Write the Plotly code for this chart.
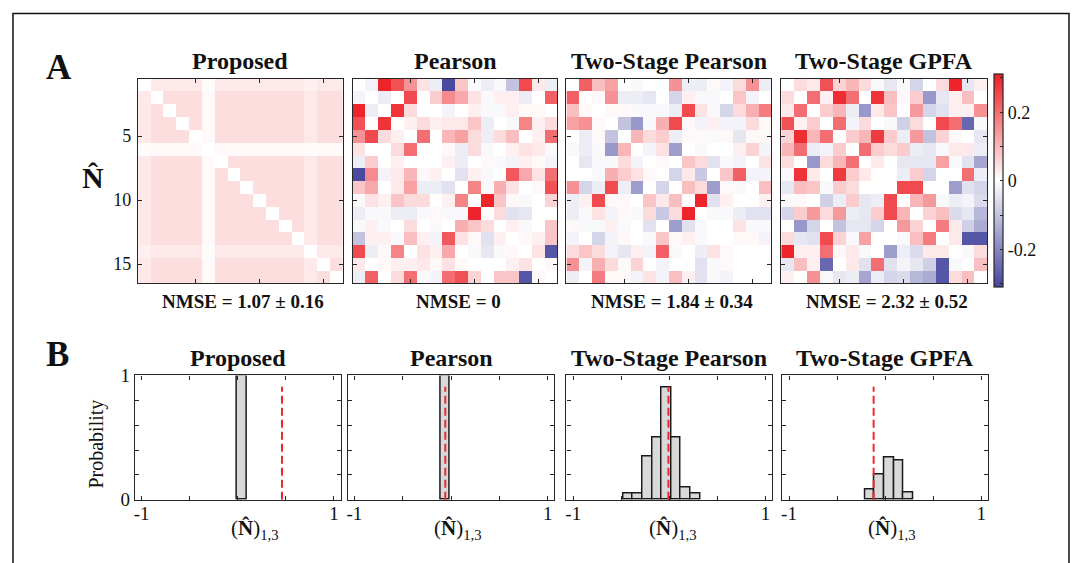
import plotly.graph_objects as go

W, H = 1081, 563
FONT = "Liberation Serif"
AXC = "#262626"

methods = ["Proposed", "Pearson", "Two-Stage Pearson", "Two-Stage GPFA"]
nmse_labels = ["NMSE = 1.07 ± 0.16", "NMSE = 0", "NMSE = 1.84 ± 0.34", "NMSE = 2.32 ± 0.52"]
neurons = list(range(1, 17))
heat_ticks = [5, 10, 15]
cbar_ticks = [-0.3, -0.2, -0.1, 0, 0.1, 0.2, 0.3]
cbar_text = ["", "-0.2", "", "0", "", "0.2", ""]
hist_xticks = [-1, -0.5, 0, 0.5, 1]
hist_xtext = ["-1", "", "", "", "1"]
hist_yticks = [0, 0.2, 0.4, 0.6, 0.8, 1]
hist_ytext = ["0", "", "", "", "", "1"]

proposed = [
    [0, .03, .03, .03, .03, .006, .03, .03, .03, .03, .03, .03, .03, .02, .03, .03],
    [.03, 0, .045, .045, .045, .008, .045, .045, .045, .045, .045, .045, .045, .03, .045, .045],
    [.03, .045, 0, .045, .045, .008, .045, .045, .045, .045, .045, .045, .045, .03, .045, .045],
    [.03, .045, .045, 0, .045, .008, .045, .045, .045, .045, .045, .045, .045, .03, .045, .045],
    [.03, .045, .045, .045, 0, .008, .045, .045, .045, .045, .045, .045, .045, .03, .045, .045],
    [.006, .008, .008, .008, .008, 0, .008, .008, .008, .008, .008, .008, .008, .006, .008, .008],
    [.03, .045, .045, .045, .045, .008, 0, .045, .045, .045, .045, .045, .045, .03, .045, .045],
    [.03, .045, .045, .045, .045, .008, .045, 0, .045, .045, .045, .045, .045, .03, .045, .045],
    [.03, .045, .045, .045, .045, .008, .045, .045, 0, .045, .045, .045, .045, .03, .045, .045],
    [.03, .045, .045, .045, .045, .008, .045, .045, .045, 0, .045, .045, .045, .03, .045, .045],
    [.03, .045, .045, .045, .045, .008, .045, .045, .045, .045, 0, .045, .045, .03, .045, .045],
    [.03, .045, .045, .045, .045, .008, .045, .045, .045, .045, .045, 0, .045, .03, .045, .045],
    [.03, .045, .045, .045, .045, .008, .045, .045, .045, .045, .045, .045, 0, .03, .045, .045],
    [.02, .03, .03, .03, .03, .006, .03, .03, .03, .03, .03, .03, .03, 0, .03, .03],
    [.03, .045, .045, .045, .045, .008, .045, .045, .045, .045, .045, .045, .045, .03, 0, .045],
    [.03, .045, .045, .045, .045, .008, .045, .045, .045, .045, .045, .045, .045, .03, .045, 0],
]

pearson = [
    [0, -0.02, 0.30, 0.24, 0.15, 0.04, -0.03, -0.30, 0.08, -0.01, -0.03, -0.01, -0.10, 0.25, 0.03, -0.03],
    [-0.02, 0, -0.03, 0.00, 0.25, 0.00, 0.07, 0.16, 0.12, 0.04, -0.01, 0.02, 0.02, -0.03, 0.00, 0.22],
    [0.30, -0.03, 0, 0.28, 0.05, 0, 0, -0.02, 0, 0.02, -0.01, -0.01, 0.02, 0.01, 0.01, 0],
    [0.24, 0.00, 0.28, 0, 0.02, 0.05, 0.02, 0.03, 0.03, 0.08, -0.03, 0, -0.01, 0.17, 0.02, 0.05],
    [0.15, 0.25, 0.05, 0.02, 0, 0.20, 0, 0.10, 0.13, 0.05, -0.03, 0.05, 0.09, 0, 0.02, 0.20],
    [0.04, 0, 0, 0.05, 0.20, 0, 0, 0.01, -0.03, 0.05, -0.01, 0, 0.02, 0.04, 0.03, -0.01],
    [-0.03, 0.07, 0, 0.02, 0, 0, 0, 0.02, -0.03, 0, 0.01, -0.01, -0.02, 0.02, 0.01, -0.02],
    [-0.30, 0.16, -0.02, 0.03, 0.10, 0.01, 0.02, 0, -0.05, 0.02, -0.01, 0, 0.23, 0.12, 0.04, 0.20],
    [0.08, 0.12, 0, 0.03, 0.13, -0.03, -0.03, -0.05, 0, 0.17, -0.01, 0.11, 0.04, 0, 0.01, 0.24],
    [-0.01, 0.04, 0.02, 0.08, 0.05, 0.05, 0, 0.02, 0.17, 0, 0.30, 0.08, 0.01, -0.01, 0, 0.06],
    [-0.03, -0.01, -0.01, -0.03, -0.03, -0.01, 0.01, -0.01, -0.01, 0.30, 0, 0.05, -0.05, -0.04, 0, 0],
    [-0.01, 0.02, -0.01, 0, 0.05, 0, -0.01, 0, 0.11, 0.08, 0.05, 0, 0.02, -0.01, 0, 0.08],
    [-0.10, 0.02, 0.02, -0.01, 0.09, 0.02, -0.02, 0.23, 0.04, 0.01, -0.05, 0.02, 0, 0.01, 0.02, 0.08],
    [0.25, -0.03, 0.01, 0.17, 0, 0.04, 0.02, 0.12, 0, -0.01, -0.04, -0.01, 0.01, 0, 0.04, -0.28],
    [0.03, 0, 0.01, 0.02, 0.02, 0.03, 0.01, 0.04, 0.01, 0, 0, 0, 0.02, 0.04, 0, 0.01],
    [-0.03, 0.22, 0, 0.05, 0.20, -0.01, -0.02, 0.20, 0.24, 0.06, 0, 0.08, 0.08, -0.28, 0.01, 0],
]

two_stage_pearson = [
    [0, 0.22, 0.09, 0.13, 0, -0.01, 0, 0, 0.15, -0.03, -0.03, 0.01, -0.02, 0.05, 0.15, -0.03],
    [0.22, 0, 0.01, 0.15, -0.03, -0.03, -0.04, 0, -0.07, 0.02, -0.01, -0.01, 0, 0.08, -0.02, 0],
    [0.09, 0.01, 0, 0.01, 0.01, -0.01, -0.01, -0.01, -0.03, 0.25, 0.04, -0.01, -0.07, 0.05, 0.11, 0.18],
    [0.13, 0.15, 0.01, 0, -0.10, -0.17, -0.01, 0.11, 0.25, 0.01, -0.02, 0.02, -0.02, -0.02, 0.05, 0.01],
    [0, -0.03, 0.01, -0.10, 0, 0.10, 0.05, 0.07, -0.03, 0.01, 0.01, -0.01, 0.01, -0.04, 0.01, 0.01],
    [-0.01, -0.03, -0.01, -0.17, 0.10, 0, -0.02, 0.04, -0.16, 0, -0.01, 0, 0, 0.02, 0.06, -0.02],
    [0, -0.04, -0.01, -0.01, 0.05, -0.02, 0, 0.01, 0, 0.08, 0.05, -0.05, -0.01, -0.02, 0, 0.04],
    [0, 0, -0.01, 0.11, 0.07, 0.04, 0.01, 0, -0.07, 0.03, -0.09, 0, 0.08, 0.22, -0.02, -0.02],
    [0.15, -0.07, -0.03, 0.25, -0.03, -0.16, 0, -0.07, 0, 0.09, 0.05, -0.16, 0.01, -0.01, 0, 0.09],
    [-0.03, 0.02, 0.25, 0.01, 0.01, 0, 0.08, 0.03, 0.09, 0, 0.30, -0.05, 0.02, 0, 0, 0.02],
    [-0.03, -0.01, 0.04, -0.02, 0.01, -0.01, 0.05, -0.09, 0.05, 0.30, 0, -0.01, -0.01, -0.03, -0.05, -0.05],
    [0.01, -0.01, -0.01, 0.02, -0.01, 0, -0.05, 0, -0.16, -0.05, -0.01, 0, 0, 0.04, -0.01, -0.01],
    [-0.02, 0, -0.07, -0.02, 0.01, 0, -0.01, 0.08, 0.01, 0.02, -0.01, 0, 0, 0.01, 0.01, -0.02],
    [0.05, 0.08, 0.05, -0.02, -0.04, 0.02, -0.02, 0.22, -0.01, 0, -0.03, 0.04, 0.01, 0, 0, 0],
    [0.15, -0.02, 0.11, 0.05, 0.01, 0.06, 0, -0.02, 0, 0, -0.05, -0.01, 0.01, 0, 0, 0],
    [-0.03, 0, 0.18, 0.01, 0.01, -0.02, 0.04, -0.02, 0.09, 0.02, -0.05, -0.01, -0.02, 0, 0, 0],
]

two_stage_gpfa = [
    [0, 0.05, 0.03, 0.24, 0.06, 0.10, 0.05, -0.01, -0.04, -0.01, -0.07, 0, 0.05, 0.30, -0.04, 0.02],
    [0.05, 0, 0.20, 0.02, 0.29, 0.20, 0, 0.28, 0.09, 0.01, 0.07, -0.17, -0.04, 0.02, 0.09, 0],
    [0.03, 0.20, 0, 0.07, 0.10, -0.03, -0.17, 0.03, 0.08, 0, 0.14, -0.07, -0.05, 0.02, 0.02, 0.15],
    [0.24, 0.02, 0.07, 0, 0.20, -0.02, 0.05, 0, -0.01, -0.08, 0.05, 0, 0.25, 0.20, -0.25, -0.01],
    [0.06, 0.29, 0.10, 0.20, 0, 0.07, 0.10, 0.27, 0.07, -0.03, 0.14, -0.10, 0.06, 0.01, 0, -0.04],
    [0.10, 0.20, -0.03, -0.02, 0.07, 0, 0.20, 0.07, 0.05, 0.07, -0.03, -0.04, -0.01, 0.03, 0.03, -0.03],
    [0.05, 0, -0.17, 0.05, 0.10, 0.20, 0, 0.03, 0, -0.04, -0.04, -0.04, 0.13, -0.01, -0.05, -0.15],
    [-0.01, 0.28, 0.03, 0, 0.27, 0.07, 0.03, 0, 0, -0.03, 0.07, -0.07, 0, 0, 0.20, -0.03],
    [-0.04, 0.09, 0.08, -0.01, 0.07, 0.05, 0, 0, 0, 0.25, 0.25, 0, 0, -0.16, -0.05, -0.07],
    [-0.01, 0.01, 0, -0.08, -0.03, 0.07, -0.04, -0.03, 0.25, 0, 0.10, 0.14, -0.01, -0.03, -0.02, -0.06],
    [-0.07, 0.07, 0.14, 0.05, 0.14, -0.03, -0.04, 0.07, 0.25, 0.10, 0, 0.06, 0.09, -0.06, -0.04, -0.12],
    [0, -0.17, -0.07, 0, -0.10, -0.04, -0.04, -0.07, 0, 0.14, 0.06, 0, 0.18, 0.03, -0.08, -0.14],
    [0.05, -0.04, -0.05, 0.25, 0.06, -0.01, 0.13, 0, 0, -0.01, 0.09, 0.18, 0, 0.03, -0.28, -0.28],
    [0.30, 0.02, 0.02, 0.20, 0.01, 0.03, -0.01, 0, -0.16, -0.03, -0.06, 0.03, 0.03, 0, -0.01, 0.05],
    [-0.04, 0.09, 0.02, -0.25, 0, 0.03, -0.05, 0.20, -0.05, -0.02, -0.04, -0.08, -0.28, -0.01, 0, 0.09],
    [0.02, 0, 0.15, -0.01, -0.04, -0.03, -0.15, -0.03, -0.07, -0.06, -0.12, -0.14, -0.28, 0.05, 0.09, 0],
]

hist_edges_proposed = [-0.01, 0.09]
hist_prob_proposed = [1.0]
hist_edges_pearson = [-0.11, -0.01]
hist_prob_pearson = [1.0]
hist_edges_tsp = [-0.48, -0.38, -0.28, -0.18, -0.08, 0.02, 0.12, 0.22, 0.32]
hist_prob_tsp = [0.05, 0.05, 0.35, 0.50, 0.90, 0.50, 0.10, 0.05]
hist_edges_gpfa = [-0.21, -0.11, -0.01, 0.09, 0.19, 0.29]
hist_prob_gpfa = [0.08, 0.20, 0.34, 0.32, 0.06]
true_values = [0.46, -0.06, -0.01, -0.12]
true_line_top = 0.91

matrices = [proposed, pearson, two_stage_pearson, two_stage_gpfa]
hist_edges = [hist_edges_proposed, hist_edges_pearson, hist_edges_tsp, hist_edges_gpfa]
hist_probs = [hist_prob_proposed, hist_prob_pearson, hist_prob_tsp, hist_prob_gpfa]

# vertical calibration of the capture (observed: shown_y = OFF + SC * layout_y)
OFF, SC = 8.56, 0.96


def fx(x):
    return x / W


def ly(y):
    return (y - OFF) / SC


def fy(y):
    return 1 - ly(y) / H


HM_X = [(137, 342), (352, 557), (566, 771), (781, 987)]
HM_Y = (77, 281)
HI_X = [(134, 340), (347, 554), (566, 772), (782, 988)]
HI_Y = (373, 497)

colorscale = [[0, "rgb(68,68,158)"], [0.5, "rgb(255,255,255)"], [1, "rgb(236,30,36)"]]
ZMAX = 0.31

fig = go.Figure()
layout = {}

for i, mat in enumerate(matrices):
    cb = None
    if i == 3:
        cb = dict(
            thickness=9, thicknessmode="pixels", len=ly(HM_Y[1]) - ly(HM_Y[0]), lenmode="pixels",
            x=fx(994), xanchor="left", xpad=0, y=fy((HM_Y[0] + HM_Y[1]) / 2), yanchor="middle", ypad=0,
            outlinewidth=1.2, outlinecolor=AXC, tickvals=cbar_ticks, ticktext=cbar_text,
            ticks="inside", ticklen=3, tickcolor=AXC,
            tickfont=dict(family=FONT, size=18, color="#111"),
        )
    fig.add_trace(go.Heatmap(
        z=mat, x=neurons, y=neurons, colorscale=colorscale, zmin=-ZMAX, zmax=ZMAX,
        showscale=(i == 3), colorbar=cb, hoverinfo="skip",
        xaxis=f"x{i + 1}", yaxis=f"y{i + 1}",
    ))
    ax = dict(domain=[fx(HM_X[i][0]), fx(HM_X[i][1])], range=[0.5, 16.5], tickvals=heat_ticks,
              ticks="inside", ticklen=4, tickcolor=AXC, showline=True, linecolor=AXC, linewidth=1.2,
              mirror="ticks", showgrid=False, zeroline=False, showticklabels=False,
              anchor=f"y{i + 1}", fixedrange=True)
    ay = dict(domain=[fy(HM_Y[1]), fy(HM_Y[0])], range=[16.5, 0.5], tickvals=heat_ticks,
              ticks="inside", ticklen=4, tickcolor=AXC, showline=True, linecolor=AXC, linewidth=1.2,
              mirror="ticks", showgrid=False, zeroline=False, showticklabels=(i == 0),
              tickfont=dict(family=FONT, size=18, color="#111"), ticklabelstandoff=2,
              anchor=f"x{i + 1}", fixedrange=True)
    layout[f"xaxis{i + 1}"] = ax
    layout[f"yaxis{i + 1}"] = ay

for i in range(4):
    e = hist_edges[i]
    centers = [(e[k] + e[k + 1]) / 2 for k in range(len(e) - 1)]
    widths = [e[k + 1] - e[k] for k in range(len(e) - 1)]
    n = i + 5
    fig.add_trace(go.Bar(
        x=centers, y=hist_probs[i], width=widths,
        marker=dict(color="#d9d9d9", line=dict(color="#1a1a1a", width=1.5)),
        hoverinfo="skip", xaxis=f"x{n}", yaxis=f"y{n}",
    ))
    fig.add_trace(go.Scatter(
        x=[true_values[i], true_values[i]], y=[0, true_line_top], mode="lines",
        line=dict(color="#f0282d", width=2, dash="8px,4px"), hoverinfo="skip",
        xaxis=f"x{n}", yaxis=f"y{n}",
    ))
    layout[f"xaxis{n}"] = dict(
        domain=[fx(HI_X[i][0]), fx(HI_X[i][1])], range=[-1.07, 1.07], tickvals=hist_xticks,
        ticktext=hist_xtext, ticks="inside", ticklen=4, tickcolor=AXC, showline=True,
        linecolor=AXC, linewidth=1.2, mirror="ticks", showgrid=False, zeroline=False,
        tickfont=dict(family=FONT, size=19, color="#111"), ticklabelstandoff=-4,
        anchor=f"y{n}", fixedrange=True)
    layout[f"yaxis{n}"] = dict(
        domain=[fy(HI_Y[1]), fy(HI_Y[0])], range=[0, 1], tickvals=hist_yticks,
        ticktext=hist_ytext, ticks="inside", ticklen=4, tickcolor=AXC, showline=True,
        linecolor=AXC, linewidth=1.2, mirror="ticks", showgrid=False, zeroline=False,
        showticklabels=(i == 0), tickfont=dict(family=FONT, size=19, color="#111"),
        anchor=f"x{n}", fixedrange=True)

annotations = []


def label(text, x, y, size, bold=False, angle=0):
    annotations.append(dict(
        text=f"<b>{text}</b>" if bold else text, x=fx(x), y=fy(y), xref="paper", yref="paper",
        xanchor="center", yanchor="middle", showarrow=False, textangle=angle,
        font=dict(family=FONT, size=size, color="#111"),
    ))


label("A", 58, 66, 35, bold=True)
label("B", 57, 352, 35, bold=True)
for i in range(4):
    cx = (HM_X[i][0] + HM_X[i][1]) / 2
    label(methods[i], cx, 59, 24, bold=True)
    label(nmse_labels[i], cx + 3, 299, 19, bold=True)
    hx = (HI_X[i][0] + HI_X[i][1]) / 2
    label(methods[i], hx, 356, 24, bold=True)
label("N\u0302", 92, 176, 30, bold=True)
label("Probability", 96, 441, 20, angle=-90)
for xc in [254, 457, 673, 892]:
    annotations.append(dict(
        text="(<b>N\u0302</b>)<sub>1,3</sub>", x=fx(xc), y=fy(527), xref="paper", yref="paper",
        xanchor="center", yanchor="middle", showarrow=False,
        font=dict(family=FONT, size=21, color="#111"),
    ))

shapes = [dict(type="rect", xref="paper", yref="paper", x0=fx(12), x1=fx(1069), y0=fy(620), y1=fy(12),
               line=dict(color="#111", width=1.5), fillcolor="rgba(0,0,0,0)")]

fig.update_layout(
    width=W, height=H, margin=dict(l=0, r=0, t=0, b=0), autosize=False,
    paper_bgcolor="white", plot_bgcolor="white", showlegend=False, bargap=0,
    annotations=annotations, shapes=shapes, **layout,
)

post = (
    "document.body.style.margin='0';document.body.style.padding='0';"
    "document.body.style.overflow='hidden';"
)

fig.write_html("out.html", config={"displayModeBar": False}, post_script=post)
